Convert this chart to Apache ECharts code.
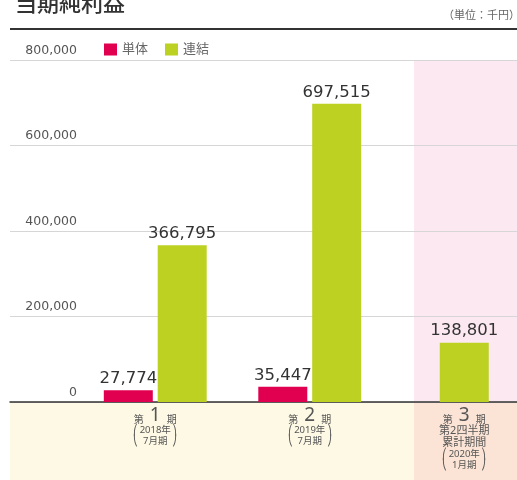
<!DOCTYPE html>
<html>
<head>
<meta charset="utf-8">
<script src="https://cdn.jsdelivr.net/npm/echarts@6/dist/echarts.min.js"></script>
<style>
  html, body { margin: 0; padding: 0; background: #fff; }
  #chart { width: 517px; height: 480px; }
</style>
</head>
<body>
<div id="chart"></div>
<script>
const periodNo = ['1', '2', '3']
const periodNote = ['', '', '第2四半期\n累計期間']
const periodYear = ['2018年', '2019年', '2020年']
const periodMonth = ['7月期', '7月期', '1月期']
const categories = ['第1期', '第2期', '第3期']
const tanTai = [27774, 35447, '-']
const renketsu = [366795, 697515, '-']
const renketsuQ = ['-', '-', 138801]
const yTicks = { min: 0, max: 800000, interval: 200000 }

const font = '"Noto Sans", "Noto Sans CJK JP", sans-serif'
const numFont = '"DejaVu Sans", sans-serif'
const RED = '#e0004f'
const GREEN = '#bdd123'

const chart = echarts.init(document.getElementById('chart'), null, { renderer: 'canvas' })

function num(v) {
  return Number(v).toLocaleString('en-US')
}

function periodLabel(value, idx) {
  const lines = [`{s|第}{n|${periodNo[idx]}}{s|期}`]
  if (periodNote[idx]) {
    periodNote[idx].split('\n').forEach((t) => lines.push(`{t|${t}}`))
  }
  lines.push(`{p|⎛}{t2|${periodYear[idx]}}{p|⎞}`)
  lines.push(`{p|⎝}{t2|${periodMonth[idx]}}{p|⎠}`)
  return lines.join('\n')
}

const barLabel = {
  show: true,
  position: 'top',
  distance: 3,
  fontFamily: numFont,
  fontSize: 16.5,
  color: '#333',
  formatter: (p) => num(p.value),
}

// categories sit on the ticks (boundaryGap false), so the bar grid runs
// from the first group centre to the last one
chart.setOption({
  animation: false,
  textStyle: { fontFamily: font },
  title: {
    text: '当期純利益',
    left: 10,
    top: -11,
    textStyle: { fontFamily: font, fontSize: 22, fontWeight: 500, color: '#333' },
  },
  graphic: [
    { type: 'rect', z: -10, silent: true, shape: { x: 414, y: 60, width: 103, height: 342 }, style: { fill: '#fce8f0' } },
    { type: 'rect', z: -10, silent: true, shape: { x: 10, y: 402, width: 404, height: 78 }, style: { fill: '#fef9e4' } },
    { type: 'rect', z: -10, silent: true, shape: { x: 414, y: 402, width: 103, height: 78 }, style: { fill: '#fbe4d5' } },
    { type: 'line', silent: true, shape: { x1: 10, y1: 29, x2: 517, y2: 29 }, style: { stroke: '#333', lineWidth: 2 } },
    {
      type: 'text', silent: true, right: -3, top: 10,
      style: { text: '（単位：千円）', fontFamily: font, fontSize: 11, fill: '#666' },
    },
  ],
  legend: {
    data: ['単体', '連結'],
    left: 99,
    top: 38,
    icon: 'rect',
    itemWidth: 13,
    itemHeight: 12,
    itemGap: 17,
    textStyle: { fontFamily: font, fontSize: 13, color: '#666' },
  },
  grid: [
    { left: 10, right: 0, top: 60, height: 342 },
    { left: 155.25, right: 52.75, top: 60, height: 342 },
  ],
  xAxis: [
    {
      gridIndex: 0, type: 'value', min: 0, max: 1,
      axisLine: { show: true, lineStyle: { color: '#333', width: 1.5 } },
      axisTick: { show: false }, axisLabel: { show: false }, splitLine: { show: false },
    },
    {
      gridIndex: 1, type: 'category', data: categories, boundaryGap: false,
      axisLine: { show: false }, axisTick: { show: false },
      axisLabel: {
        interval: 0,
        margin: 4,
        formatter: periodLabel,
        rich: {
          s: { fontSize: 10, color: '#555', lineHeight: 19, verticalAlign: 'bottom' },
          n: { fontSize: 19, color: '#555', lineHeight: 19, padding: [0, 6] },
          t: { fontSize: 11, color: '#555', lineHeight: 12 },
          t2: { fontSize: 9.5, color: '#555', lineHeight: 11, width: 34, align: 'center' },
          p: { fontSize: 10, color: '#555', lineHeight: 11 },
        },
      },
    },
    { gridIndex: 1, type: 'category', data: categories, boundaryGap: false, show: false },
  ],
  yAxis: [
    {
      gridIndex: 0, type: 'value', ...yTicks,
      axisLine: { show: false }, axisTick: { show: false },
      splitLine: { lineStyle: { color: '#d6d6d6', width: 1 } },
      axisLabel: {
        inside: true,
        align: 'right',
        margin: 67,
        verticalAlign: 'bottom',
        padding: [0, 0, 3, 0],
        fontFamily: numFont,
        fontSize: 12.5,
        color: '#555',
        formatter: (v) => num(v),
      },
    },
    {
      gridIndex: 1, type: 'value', ...yTicks, show: false,
    },
  ],
  series: [
    {
      name: '単体', type: 'bar', xAxisIndex: 1, yAxisIndex: 1,
      barWidth: 49, barGap: '10%',
      itemStyle: { color: RED },
      label: barLabel,
      data: tanTai,
    },
    {
      name: '連結', type: 'bar', xAxisIndex: 1, yAxisIndex: 1,
      barWidth: 49, barGap: '10%',
      itemStyle: { color: GREEN },
      label: barLabel,
      data: renketsu,
    },
    {
      name: '連結', type: 'bar', xAxisIndex: 2, yAxisIndex: 1,
      barWidth: 49,
      itemStyle: { color: GREEN },
      label: barLabel,
      data: renketsuQ,
    },
  ],
})
</script>
</body>
</html>
